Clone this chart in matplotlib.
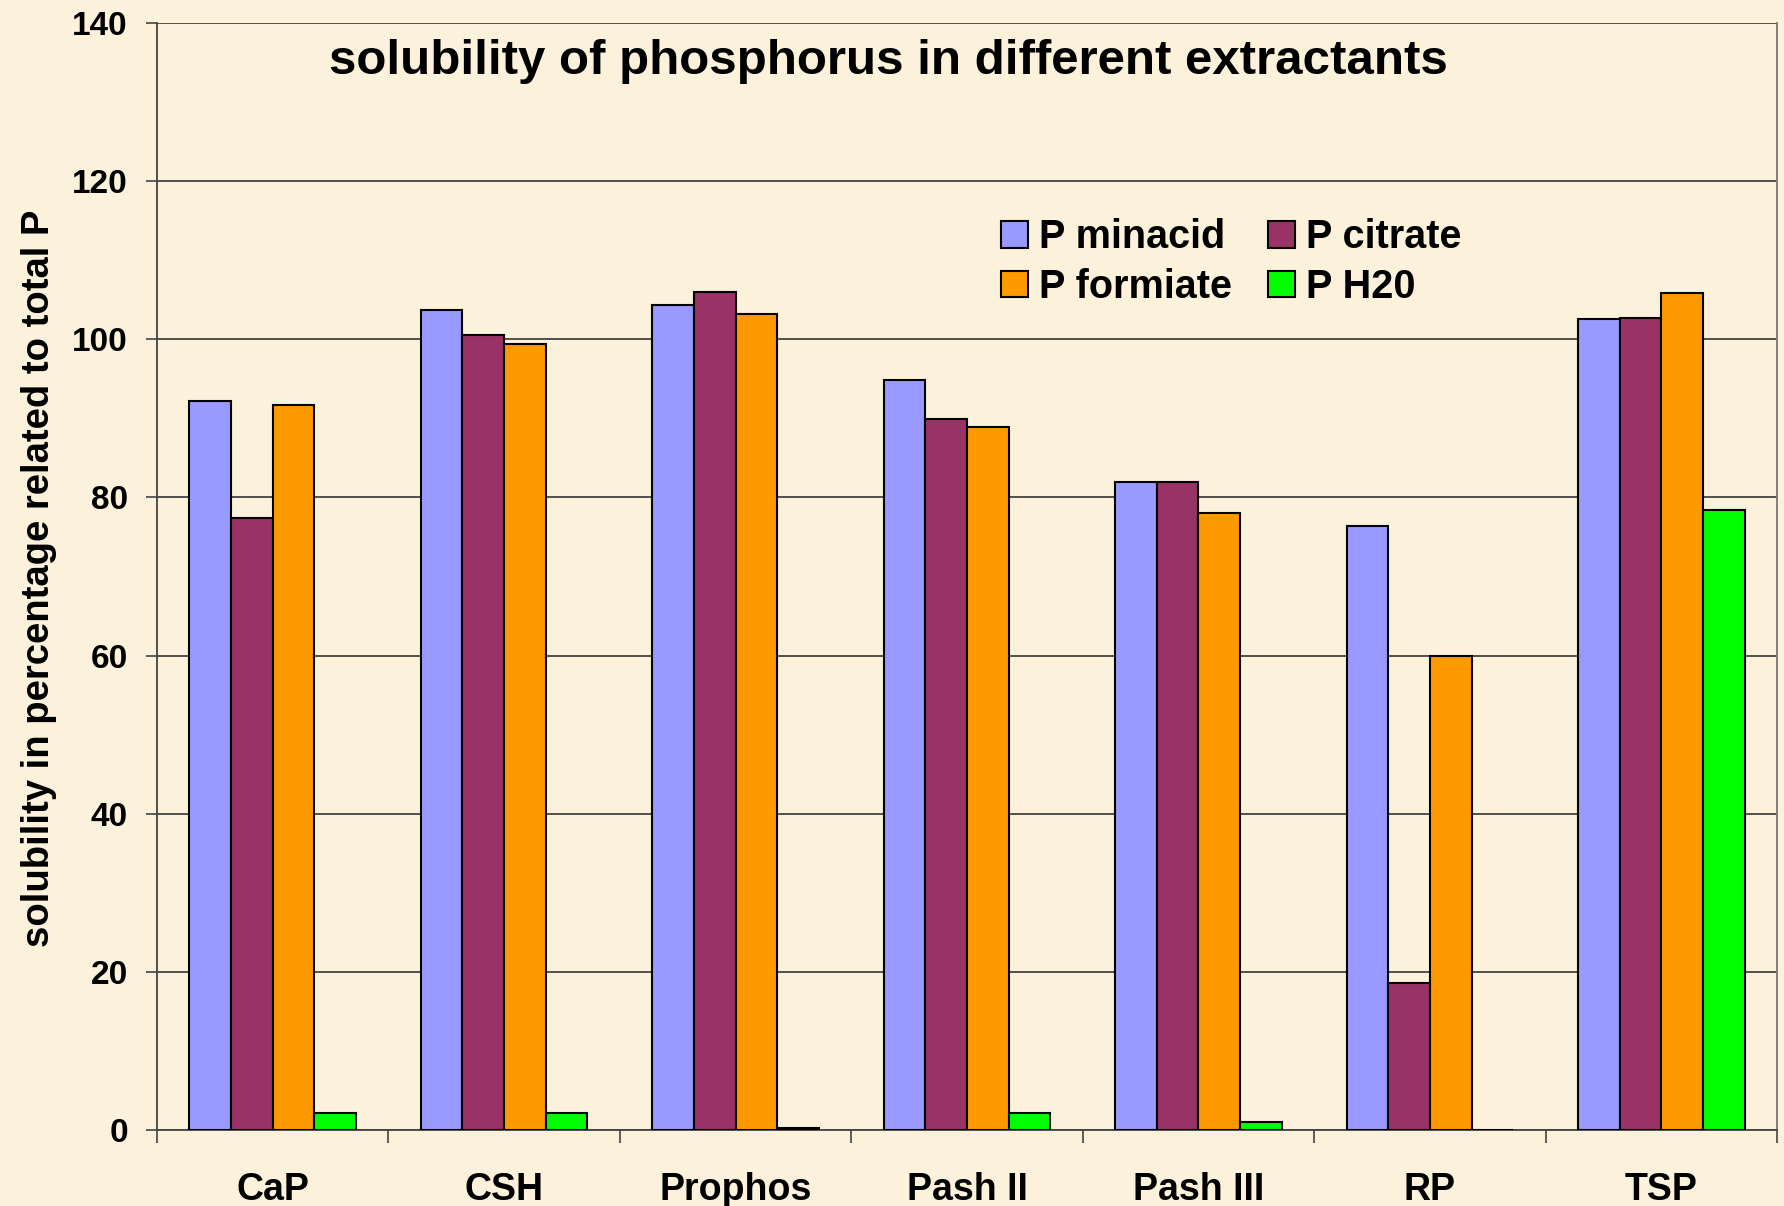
import matplotlib
matplotlib.use("Agg")
import matplotlib.pyplot as plt
import numpy as np
from matplotlib.patches import Patch

categories = ["CaP", "CSH", "Prophos", "Pash II", "Pash III", "RP", "TSP"]
series_names = ["P minacid", "P citrate", "P formiate", "P H20"]
p_minacid = [92.2, 103.7, 104.3, 94.8, 82.0, 76.4, 102.6]
p_citrate = [77.4, 100.6, 106.0, 89.9, 82.0, 18.6, 102.7]
p_formiate = [91.7, 99.4, 103.2, 88.9, 78.0, 59.9, 105.9]
p_h2o = [2.2, 2.2, 0.2, 2.2, 1.0, 0.0, 78.4]
y_ticks = [0, 20, 40, 60, 80, 100, 120, 140]

colors = ["#9999FF", "#993366", "#FF9900", "#00FF00"]
bg = "#FCF1DA"

plt.rcParams['font.family'] = ['Liberation Sans', 'DejaVu Sans']

fig = plt.figure(figsize=(17.84, 12.06), dpi=100, facecolor=bg)
ax = fig.add_axes([157/1784, 1 - 1130/1206, (1777-157)/1784, (1130-23)/1206])
ax.set_facecolor(bg)

x = np.arange(len(categories))
bw = 0.18
data = [p_minacid, p_citrate, p_formiate, p_h2o]
for i, (vals, c) in enumerate(zip(data, colors)):
    ax.bar(x + (i - 1.5) * bw, vals, width=bw, color=c, edgecolor="black",
           linewidth=1.5, zorder=3)

ax.set_xlim(-0.5, len(categories) - 0.5)
ax.set_ylim(0, 140)
ax.set_yticks(y_ticks)
ax.set_yticklabels([str(v) for v in y_ticks], fontsize=24, fontweight="bold")
ax.yaxis.grid(True, color="#444444", linewidth=1.3, zorder=0)
ax.set_axisbelow(True)

ax.set_xticks(x)
ax.set_xticklabels(categories, fontsize=27, fontweight="bold")
ax.tick_params(axis="x", length=0, pad=30)
ax.set_xticks(np.arange(-0.5, len(categories) + 0.5, 1), minor=True)
ax.tick_params(axis="x", which="minor", length=9, width=1.2, color="#444444")
ax.tick_params(axis="y", length=8, width=1.2, color="#444444", pad=13)

ax.spines["top"].set_visible(False)
ax.spines["right"].set_color("#777777")
ax.spines["left"].set_color("#444444")
ax.spines["bottom"].set_color("#444444")
for s in ["left", "bottom", "right"]:
    ax.spines[s].set_linewidth(1.3)

fig.text(39/1784, 1 - 578/1206, "solubility in percentage related to total P",
         rotation=90, ha="center", va="center", fontsize=27.5, fontweight="bold")

fig.text(888/1784, 1 - 62/1206, "solubility of phosphorus in different extractants",
         ha="center", va="center", fontsize=35.5, fontweight="bold")

handles = [Patch(facecolor=c, edgecolor="black", linewidth=1.5) for c in colors]
order = [0, 2, 1, 3]
fig.legend([handles[i] for i in order], [series_names[i] for i in order],
           ncol=2, loc="upper left", bbox_to_anchor=(1001/1784, 1 - 218/1206),
           frameon=False, prop={"weight": "bold", "size": 28.5},
           borderpad=0, borderaxespad=0,
           handlelength=0.67, handleheight=0.67, handletextpad=0.3,
           columnspacing=0.9, labelspacing=0.3)

fig.savefig("out.png", dpi=100, facecolor=bg)
